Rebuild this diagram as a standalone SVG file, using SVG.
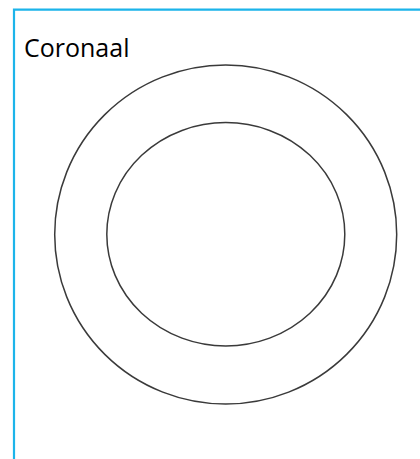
<svg xmlns="http://www.w3.org/2000/svg" width="420" height="459" viewBox="0 0 420 459">
<style>
.ring{fill:none;stroke:#3a3a3a;stroke-width:1.5}
.frame{fill:none;stroke:#1cb4ea;stroke-width:2.2}
.lbl{font-family:"Open Sans","Liberation Sans",sans-serif;font-size:25px;fill:#000}
</style>
<rect width="420" height="459" fill="#fff"/>
<g id="frame"><path class="frame" d="M14,459 V9.7 H420"/></g>
<g id="label"><text class="lbl" x="24" y="57">Coronaal</text></g>
<g id="outer"><ellipse class="ring" cx="225.7" cy="234.5" rx="171" ry="169.5"/></g>
<g id="inner"><ellipse class="ring" cx="225.8" cy="234.3" rx="119" ry="111.7"/></g>
<g id="connectors"></g>
</svg>
